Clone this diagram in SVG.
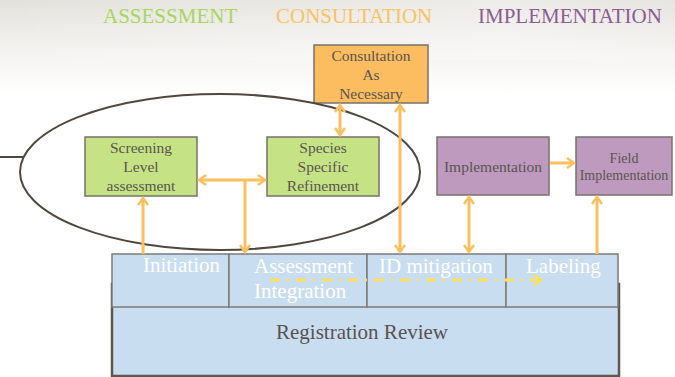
<svg xmlns="http://www.w3.org/2000/svg" width="675" height="377" viewBox="0 0 675 377">
<defs>
<linearGradient id="bg" x1="0" y1="0" x2="0" y2="1">
<stop offset="0" stop-color="#e3e1dc"/>
<stop offset="0.13" stop-color="#f3f2ef"/>
<stop offset="0.25" stop-color="#ffffff"/>
</linearGradient>
<linearGradient id="bgh" x1="0" y1="0" x2="1" y2="0">
<stop offset="0" stop-color="#ffffff" stop-opacity="0"/>
<stop offset="0.75" stop-color="#ffffff" stop-opacity="0.35"/>
<stop offset="1" stop-color="#ffffff" stop-opacity="0.1"/>
</linearGradient>
<marker id="ah" viewBox="0 0 10 12" refX="8" refY="6" markerWidth="10" markerHeight="12" markerUnits="userSpaceOnUse" orient="auto-start-reverse">
<path d="M1,1 L8,6 L1,11" fill="none" stroke="#fbbf5e" stroke-width="2.5"/>
</marker>
<marker id="ahy" viewBox="0 0 10 12" refX="8" refY="6" markerWidth="10" markerHeight="12" markerUnits="userSpaceOnUse" orient="auto">
<path d="M1,1 L8,6 L1,11" fill="none" stroke="#fde05c" stroke-width="2.5"/>
</marker>
</defs>
<style>
.box{stroke:#7a7068;stroke-width:1.5}
.cell{fill:#c9ddf0;stroke:#7f7a76;stroke-width:1.5}
.arr{fill:none;stroke:#fbbf5e;stroke-width:3}
</style>
<rect width="675" height="377" fill="url(#bg)"/>
<rect width="675" height="60" fill="url(#bgh)"/>

<g id="titles" font-family="Liberation Serif, serif" font-size="21">
<text x="103" y="23" fill="#a8d65c">ASSESSMENT</text>
<text x="276" y="23" fill="#fcc264">CONSULTATION</text>
<text x="478" y="23" fill="#8d5c93">IMPLEMENTATION</text>
</g>

<g font-family="Liberation Serif, serif" font-size="21" fill="#ffffff">
<g id="registration">
<rect x="112" y="284" width="507" height="92" fill="#c9ddf0" stroke="#5e5750" stroke-width="2.5"/>
<text x="362" y="339" fill="#595250" text-anchor="middle">Registration Review</text>
</g>
<g id="initiation">
<rect class="cell" x="112" y="254" width="117" height="53"/>
<text x="143" y="272">Initiation</text>
</g>
<g id="assessment-integration">
<rect class="cell" x="229" y="254" width="138" height="53"/>
<text x="254" y="273">Assessment</text>
<text x="254" y="298">Integration</text>
</g>
<g id="id-mitigation">
<rect class="cell" x="367" y="254" width="139" height="53"/>
<text x="379" y="273">ID mitigation</text>
</g>
<g id="labeling">
<rect class="cell" x="506" y="254" width="112" height="53"/>
<text x="526" y="273">Labeling</text>
</g>
</g>

<g font-family="Liberation Serif, serif" font-size="15.5" fill="#5a5550" text-anchor="middle">
<g id="consultation">
<rect class="box" x="314" y="45" width="114" height="58" fill="#fbbd5f"/>
<text x="371" y="61">Consultation</text>
<text x="371" y="80">As</text>
<text x="371" y="99">Necessary</text>
</g>
<g id="screening">
<rect class="box" x="85" y="137" width="112" height="59" fill="#c5e384"/>
<text x="141" y="153">Screening</text>
<text x="141" y="172">Level</text>
<text x="141" y="191">assessment</text>
</g>
<g id="species">
<rect class="box" x="267" y="137" width="112" height="59" fill="#c5e384"/>
<text x="323" y="153">Species</text>
<text x="323" y="172">Specific</text>
<text x="323" y="191">Refinement</text>
</g>
<g id="implementation">
<rect class="box" x="437" y="137" width="112" height="58" fill="#bf9abf"/>
<text x="493" y="172">Implementation</text>
</g>
<g id="field-implementation" font-size="14">
<rect class="box" x="576" y="137" width="96" height="58" fill="#bf9abf"/>
<text x="624" y="163">Field</text>
<text x="624" y="180">Implementation</text>
</g>
</g>

<g id="assessment-group">
<line x1="0" y1="157" x2="24" y2="157" stroke="#504840" stroke-width="2"/>
<ellipse cx="220" cy="172" rx="200" ry="78" fill="none" stroke="#504840" stroke-width="2"/>
</g>

<g id="connectors">
<line class="arr" x1="143" y1="254" x2="143" y2="198" marker-end="url(#ah)"/>
<line class="arr" x1="199" y1="180" x2="265" y2="180" marker-start="url(#ah)" marker-end="url(#ah)"/>
<line class="arr" x1="245" y1="180" x2="245" y2="252" marker-end="url(#ah)"/>
<line class="arr" x1="340" y1="105" x2="340" y2="135" marker-start="url(#ah)" marker-end="url(#ah)"/>
<line class="arr" x1="400" y1="105" x2="400" y2="252" marker-start="url(#ah)" marker-end="url(#ah)"/>
<line class="arr" x1="550" y1="163" x2="574" y2="163" marker-end="url(#ah)"/>
<line class="arr" x1="469" y1="197" x2="469" y2="252" marker-start="url(#ah)" marker-end="url(#ah)"/>
<line class="arr" x1="597" y1="254" x2="597" y2="197" marker-end="url(#ah)"/>
<line x1="270" y1="280" x2="541" y2="280" fill="none" stroke="#fde05c" stroke-width="3" stroke-dasharray="10 7 2 7" marker-end="url(#ahy)"/>
</g>
</svg>
